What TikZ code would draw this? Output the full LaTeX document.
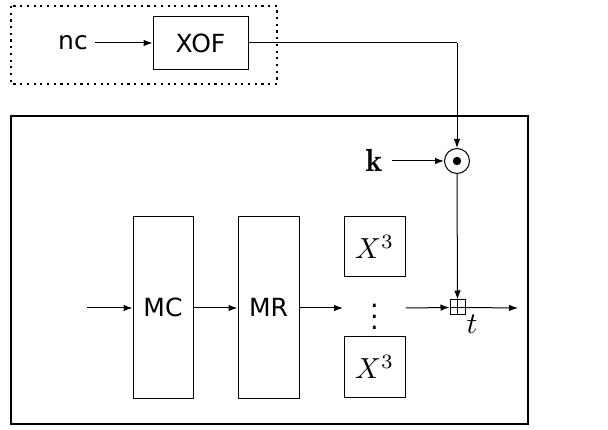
\documentclass[tikz,border=0pt]{standalone}
\usepackage{graphicx}
\usepackage{fontspec}
\setsansfont{DejaVu Sans}
\usetikzlibrary{arrows.meta}
\newcommand{\myscaledmath}[2]{\scalebox{#1}{\fontsize{10}{12}\selectfont$#2$}}
\begin{document}
\begin{tikzpicture}[x=1pt,y=-1pt,
  every node/.style={font=\fontsize{25}{30}\selectfont\sffamily},
  box/.style={draw,line width=1pt,inner sep=0pt},
  arr/.style={line width=1pt,-{Latex[length=9pt,width=6.5pt]}},
  ln/.style={line width=1pt}]
\useasboundingbox (0,0) rectangle (608,430);
% dotted box
\draw[line width=2.2pt,dash pattern=on 2.2pt off 4.5pt] (11,6) rectangle (277,84);
% main box
\draw[line width=2pt] (11,116) rectangle (528,424);
\node[box,minimum width=95pt,minimum height=53pt] (xof) at (200.5,43) {XOF};
\node (nc) at (73,43) {nc};
\draw[arr] (nc.east) ++(4,0) coordinate (ncs) (ncs) -- (xof.west);
\node[draw,circle,line width=1pt,minimum size=25pt,inner sep=0pt] (odot) at (457,161) {};
\fill (odot.center) circle (4.2pt);
\coordinate (corner) at (457,43);
\draw[ln] (xof.east) -- (corner);
\draw[arr] (corner) -- (odot.north);
\node (k) at (374,160) {\myscaledmath{3.2}{\mathbf{k}}};
\draw[arr] (392,161) coordinate (ks) -- (odot.west);
\node[box,minimum width=60pt,minimum height=181pt] (mc) at (163,307.5) {MC};
\node[box,minimum width=61pt,minimum height=181pt] (mr) at (268.5,307.5) {MR};
\node[box,minimum width=61pt,minimum height=60pt] (x1) at (374.5,247) {\myscaledmath{2.9}{X^3}};
\node[box,minimum width=61pt,minimum height=60pt] (x2) at (374.5,367) {\myscaledmath{2.9}{X^3}};
\node (dots) at (374.5,309) {\myscaledmath{2.7}{\vdots}};
\node[draw,line width=1pt,minimum size=15pt,inner sep=0pt] (bp) at (457.5,307.5) {};
\draw[line width=1pt] (bp.north) -- (bp.south) (bp.west) -- (bp.east);
\node (t) at (472,324) {\myscaledmath{3.0}{t}};
\coordinate (in) at (87,308);
\draw[arr] (in) -- (mc.west |- in);
\draw[arr] (mc.east |- in) -- (mr.west |- in);
\coordinate (mrout) at (343,308);
\draw[arr] (mr.east |- in) -- (mrout);
\coordinate (dout) at (406,308);
\draw[arr] (dout) -- (bp.west);
\coordinate (out) at (518,308);
\draw[arr] (bp.east) -- (out);
\draw[arr] (odot.south) -- (bp.north);
\end{tikzpicture}
\end{document}
